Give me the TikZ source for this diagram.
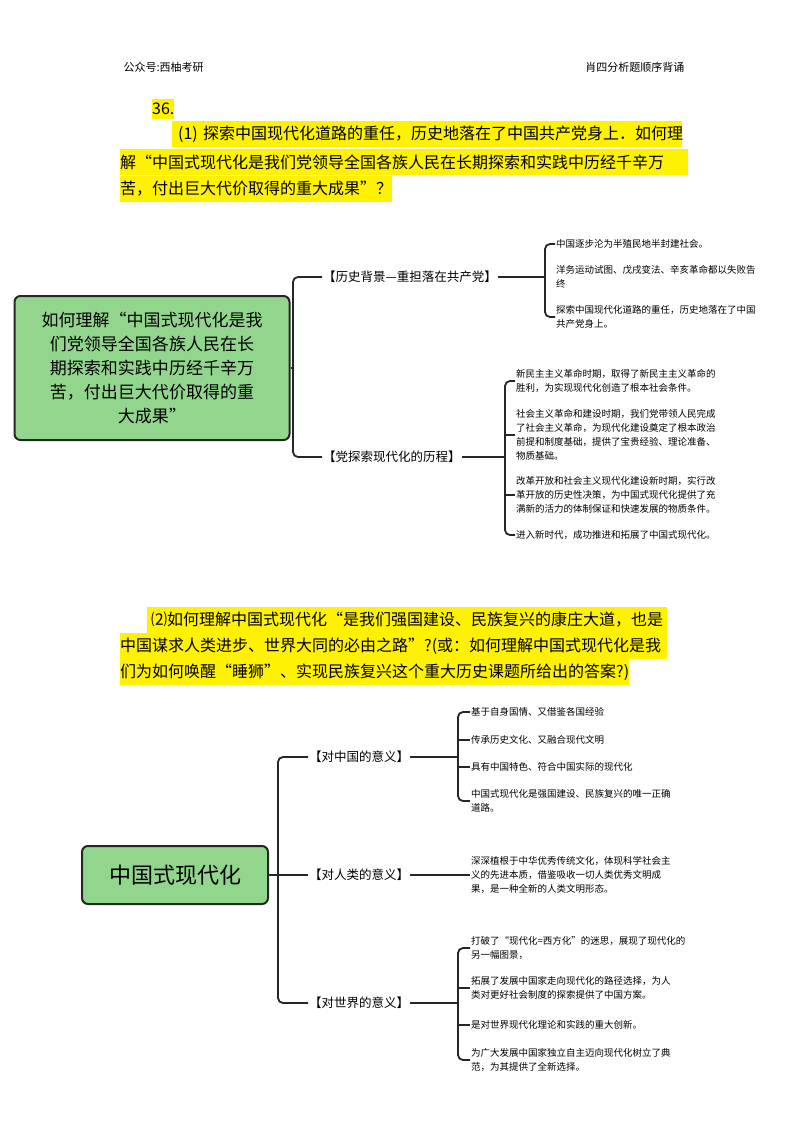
\documentclass[tikz,border=0pt]{standalone}
\usepackage{fontspec}
\setmainfont{Noto Sans CJK SC}
\definecolor{rootgreen}{RGB}{146,214,142}
\begin{document}
\begin{tikzpicture}[x=1pt,y=-1pt,
  hl/.style={fill=yellow,anchor=west,inner sep=0pt,minimum height=26pt,font=\fontsize{16}{18}\selectfont},
  root/.style={draw=black!85,line width=2pt,fill=rootgreen,rounded corners=6pt,align=center},
  br/.style={anchor=west,font=\fontsize{12.5}{15}\selectfont,inner sep=1pt},
  ch/.style={anchor=west,align=left,font=\fontsize{9.5}{14}\selectfont,inner sep=1pt},
  ln/.style={line width=1.8pt,black!85},
  brk/.style={line width=1.8pt,black!85,rounded corners=5pt}]
\useasboundingbox (0,0) rectangle (800,1132);
\node[anchor=west,font=\fontsize{11}{13}\selectfont] (h1) at (120,67) {公众号:西柚考研};
\node[anchor=east,font=\fontsize{11}{13}\selectfont] (h2) at (688,67) {肖四分析题顺序背诵};
% question 1
\node[hl,minimum height=20pt] (q0) at (152,109) {36.};
\node[hl,text width=510pt] (q1) at (172,134) {\hspace{6pt}(1) 探索中国现代化道路的重任，历史地落在了中国共产党身上．如何理};
\node[hl,text width=568pt] (q2) at (120,162) {解“中国式现代化是我们党领导全国各族人民在长期探索和实践中历经千辛万};
\node[hl] (q3) at (120,189) {苦，付出巨大代价取得的重大成果”？};
% map 1
\node[root,minimum width=275pt,minimum height=144pt,font=\fontsize{17}{24}\selectfont] (r1) at (152,368)
 {如何理解“中国式现代化是我\\们党领导全国各族人民在长\\期探索和实践中历经千辛万\\苦，付出巨大代价取得的重\\大成果”};
\node[br] (b1) at (322,277) {【历史背景—重担落在共产党】};
\node[br] (b2) at (322,457) {【党探索现代化的历程】};
\coordinate (j0) at (293,368);
\draw[ln] (r1.east) -- (j0);
\draw[brk] (b1.west) -| (j0) |- (b2.west);
\node[ch] (c11) at (555,244) {中国逐步沦为半殖民地半封建社会。};
\node[ch] (c12) at (555,277) {洋务运动试图、戊戌变法、辛亥革命都以失败告\\终};
\node[ch] (c13) at (555,317) {探索中国现代化道路的重任，历史地落在了中国\\共产党身上。};
\coordinate (j1) at (545,277);
\draw[ln] (b1.east) -- (j1);
\draw[brk] (c11.west) -| (j1) |- (c13.west);
\node[ch] (c21) at (515,381) {新民主主义革命时期，取得了新民主主义革命的\\胜利，为实现现代化创造了根本社会条件。};
\node[ch] (c22) at (515,435) {社会主义革命和建设时期，我们党带领人民完成\\了社会主义革命，为现代化建设奠定了根本政治\\前提和制度基础，提供了宝贵经验、理论准备、\\物质基础。};
\node[ch] (c23) at (515,495) {改革开放和社会主义现代化建设新时期，实行改\\革开放的历史性决策，为中国式现代化提供了充\\满新的活力的体制保证和快速发展的物质条件。};
\node[ch] (c24) at (515,535) {进入新时代，成功推进和拓展了中国式现代化。};
\coordinate (j2) at (505,457);
\draw[ln] (b2.east) -- (j2);
\draw[brk] (c21.west) -| (j2) |- (c24.west);
\draw[ln] (c22.west -| j2) -- (c22.west);
\draw[ln] (c23.west -| j2) -- (c23.west);
% question 2
\node[hl,text width=520pt] (p1) at (147,620) {\hspace{4pt}⑵如何理解中国式现代化“是我们强国建设、民族复兴的康庄大道，也是};
\node[hl,text width=547pt] (p2) at (120,646) {中国谋求人类进步、世界大同的必由之路”?(或：如何理解中国式现代化是我};
\node[hl] (p3) at (120,672) {们为如何唤醒“睡狮”、实现民族复兴这个重大历史课题所给出的答案?)};
% map 2
\node[root,minimum width=186pt,minimum height=58pt,font=\fontsize{22}{26}\selectfont] (r2) at (175,875) {中国式现代化};
\node[br] (d1) at (308,757) {【对中国的意义】};
\node[br] (d2) at (308,875) {【对人类的意义】};
\node[br] (d3) at (308,1003) {【对世界的意义】};
\coordinate (k0) at (278,875);
\draw[ln] (r2.east) -- (d2.west);
\draw[brk] (d1.west) -| (k0) |- (d3.west);
\node[ch] (e11) at (470,712) {基于自身国情、又借鉴各国经验};
\node[ch] (e12) at (470,740) {传承历史文化、又融合现代文明};
\node[ch] (e13) at (470,767) {具有中国特色、符合中国实际的现代化};
\node[ch] (e14) at (470,801) {中国式现代化是强国建设、民族复兴的唯一正确\\道路。};
\coordinate (k1) at (458,757);
\draw[ln] (d1.east) -- (k1);
\draw[brk] (e11.west) -| (k1) |- (e14.west);
\draw[ln] (e12.west -| k1) -- (e12.west);
\draw[ln] (e13.west -| k1) -- (e13.west);
\node[ch] (e21) at (470,875) {深深植根于中华优秀传统文化，体现科学社会主\\义的先进本质，借鉴吸收一切人类优秀文明成\\果，是一种全新的人类文明形态。};
\draw[ln] (d2.east) -- (e21.west);
\node[ch] (e31) at (470,948) {打破了“现代化=西方化”的迷思，展现了现代化的\\另一幅图景，};
\node[ch] (e32) at (470,988) {拓展了发展中国家走向现代化的路径选择，为人\\类对更好社会制度的探索提供了中国方案。};
\node[ch] (e33) at (470,1025) {是对世界现代化理论和实践的重大创新。};
\node[ch] (e34) at (470,1060) {为广大发展中国家独立自主迈向现代化树立了典\\范，为其提供了全新选择。};
\coordinate (k3) at (458,1003);
\draw[ln] (d3.east) -- (k3);
\draw[brk] (e31.west) -| (k3) |- (e34.west);
\draw[ln] (e32.west -| k3) -- (e32.west);
\draw[ln] (e33.west -| k3) -- (e33.west);
\end{tikzpicture}
\end{document}
